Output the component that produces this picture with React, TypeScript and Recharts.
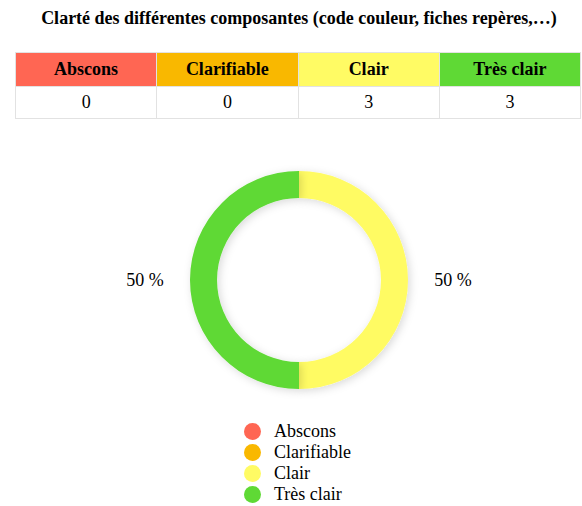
import React from 'react';
import { PieChart, Pie, Cell, Legend } from 'recharts';

const categories = ['Abscons', 'Clarifiable', 'Clair', 'Très clair'];
const counts = [0, 0, 3, 3];
const colors = ['#ff6653', '#f9b800', '#fffb64', '#5fd935'];

const title = 'Clarté des différentes composantes (code couleur, fiches repères,…)';

const data = categories.map((name, i) => ({ name, value: counts[i] }));

const font = '"Liberation Serif", "Times New Roman", serif';

const renderLabel = (props: any) => {
  const { cx, cy, midAngle, outerRadius, percent } = props;
  if (!percent) return null;
  const rad = Math.PI / 180;
  const r = outerRadius + 45;
  const x = cx + r * Math.cos(-midAngle * rad);
  const y = cy + r * Math.sin(-midAngle * rad);
  return (
    <text x={x} y={y} textAnchor="middle" dominantBaseline="central" fill="#000" fontSize={18} fontFamily={font}>
      {Math.round(percent * 100)} %
    </text>
  );
};

const LegendContent = () => (
  <div style={{ fontFamily: font, fontSize: 18, color: '#000' }}>
    {categories.map((c, i) => (
      <div key={c} style={{ display: 'flex', alignItems: 'center', height: 21 }}>
        <span style={{ display: 'inline-block', width: 17, height: 17, borderRadius: '50%', background: colors[i], marginRight: 13 }} />
        <span>{c}</span>
      </div>
    ))}
  </div>
);

const cellStyle: React.CSSProperties = {
  border: '1px solid #e2e2e2',
  textAlign: 'center',
  padding: 0,
};

export default function App() {
  return (
    <div style={{ position: 'absolute', left: 0, top: 0, width: 582, height: 506, background: '#fff', fontFamily: font, overflow: 'hidden' }}>
      <div style={{ position: 'absolute', top: 8, left: 8, width: 582, textAlign: 'center', fontWeight: 'bold', fontSize: 18, whiteSpace: 'nowrap' }}>
        {title}
      </div>
      <table style={{ position: 'absolute', top: 52, left: 15, borderCollapse: 'collapse', tableLayout: 'fixed', width: 566 }}>
        <tbody>
          <tr style={{ height: 34 }}>
            {categories.map((c, i) => (
              <th key={c} style={{ ...cellStyle, background: colors[i], fontSize: 18, fontWeight: 'bold' }}>{c}</th>
            ))}
          </tr>
          <tr style={{ height: 32 }}>
            {counts.map((v, i) => (
              <td key={i} style={{ ...cellStyle, fontSize: 18 }}>{v}</td>
            ))}
          </tr>
        </tbody>
      </table>
      <div style={{ position: 'absolute', top: 125, left: 0 }}>
        <PieChart width={582} height={381}>
          <defs>
            <filter id="donutShadow" x="-20%" y="-20%" width="140%" height="140%">
              <feDropShadow dx="2" dy="2" stdDeviation="4" floodColor="#000" floodOpacity="0.15" />
            </filter>
          </defs>
          <Pie
            data={data}
            dataKey="value"
            nameKey="name"
            cx={294}
            cy={150}
            innerRadius={82}
            outerRadius={109}
            startAngle={90}
            endAngle={-270}
            stroke="none"
            label={renderLabel}
            labelLine={false}
            isAnimationActive={false}
            style={{ filter: 'url(#donutShadow)' }}
          >
            {data.map((d, i) => (
              <Cell key={d.name} fill={colors[i]} />
            ))}
          </Pie>
          <Legend
            content={<LegendContent />}
            wrapperStyle={{ position: 'absolute', top: 296, left: 244, width: 140 }}
          />
        </PieChart>
      </div>
    </div>
  );
}
